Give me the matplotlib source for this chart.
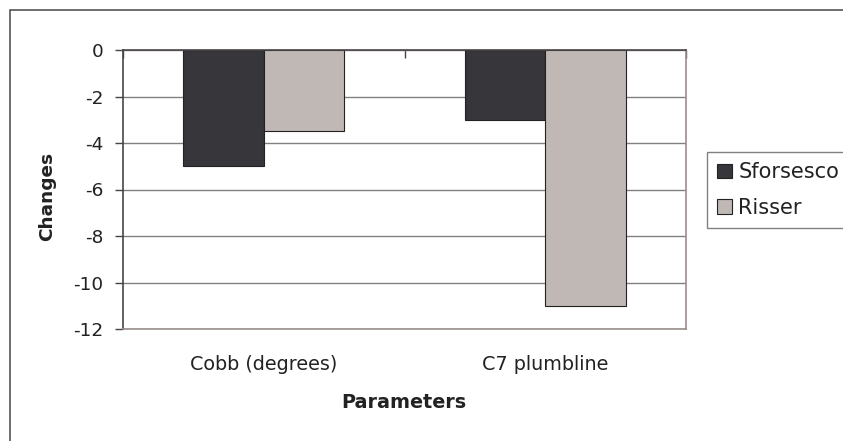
import matplotlib
matplotlib.use("Agg")
import matplotlib.pyplot as plt
from matplotlib.patches import Rectangle
import numpy as np

categories = ["Cobb (degrees)", "C7 plumbline"]
series_names = ["Sforsesco", "Risser"]
sforsesco = [-5, -3]
risser = [-3.5, -11]
yticks = [0, -2, -4, -6, -8, -10, -12]

colors = ["#37363a", "#c0b8b4"]

plt.rcParams['font.family'] = ['DejaVu Sans']

W, H = 843, 441
fig = plt.figure(figsize=(W / 100, H / 100), dpi=100)
fig.patch.set_facecolor("white")

# outer chart border (extends beyond right/bottom edges)
fig.add_artist(Rectangle((9.5 / W, -0.2), 1.2, 1.2 - 9.5 / H,
                         transform=fig.transFigure, fill=False,
                         edgecolor="#555555", linewidth=1.2, clip_on=False))

ax = fig.add_axes([123 / W, 1 - 329 / H, (686 - 123) / W, (329 - 50) / H])

x = np.arange(len(categories))
w = 1 / 3.5
ax.bar(x - w / 2, sforsesco, w, color=colors[0], edgecolor="#222222",
       linewidth=0.8, label=series_names[0], zorder=3)
ax.bar(x + w / 2, risser, w, color=colors[1], edgecolor="#222222",
       linewidth=0.8, label=series_names[1], zorder=3)

ax.set_xlim(-0.5, len(categories) - 0.5)
ax.set_ylim(-12, 0)
ax.set_yticks(yticks)
ax.set_yticklabels([str(v) for v in yticks])
ax.yaxis.grid(True, color="#808080", linewidth=1.0, zorder=0)
ax.set_axisbelow(True)

# x axis at top (y=0) with boundary tick marks pointing down
ax.set_xticks(np.arange(-0.5, len(categories), 1.0))
ax.set_xticklabels([])
ax.set_xticks(x, minor=True)
ax.set_xticklabels(categories, minor=True)
ax.tick_params(axis="x", which="major", top=True, bottom=False,
               direction="in", length=6, color="#444444", width=1)
ax.tick_params(axis="x", which="minor", bottom=True, length=0,
               pad=19, labelsize=13.8, labelcolor="#222222")
ax.tick_params(axis="y", direction="out", length=6, width=1,
               color="#444444", pad=8, labelsize=13.3, labelcolor="#222222")

for side in ["top", "left"]:
    ax.spines[side].set_color("#4a4446")
    ax.spines[side].set_linewidth(1.2)
for side in ["right", "bottom"]:
    ax.spines[side].set_color("#9a8e8e")
    ax.spines[side].set_linewidth(1.2)
ax.spines["top"].set_zorder(4)

fig.text(47 / W, 1 - 196 / H, "Changes", rotation=90, ha="center",
         va="center", fontsize=13.3, fontweight="bold", color="#222222")
fig.text(404 / W, 1 - 403 / H, "Parameters", ha="center", va="center",
         fontsize=13.8, fontweight="bold", color="#222222")

leg = fig.legend(loc="upper left", bbox_to_anchor=(707 / W, 1 - 152 / H),
                 bbox_transform=fig.transFigure, fontsize=15,
                 handlelength=0.7, handleheight=0.7, handletextpad=0.3,
                 labelspacing=0.75, borderpad=0.5, borderaxespad=0,
                 fancybox=False, framealpha=1, edgecolor="#808080")
leg.get_frame().set_linewidth(1.0)
for t in leg.get_texts():
    t.set_color("#222222")

fig.savefig("out.png", dpi=100)
